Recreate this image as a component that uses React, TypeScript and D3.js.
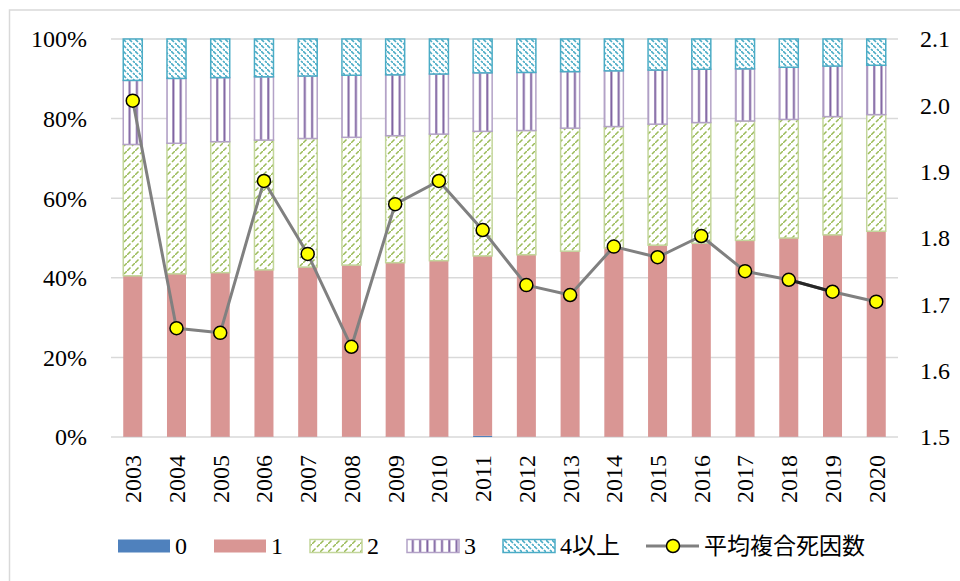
import React, { useEffect, useRef } from 'react';
import * as d3 from 'd3';

// years on the x axis
const years = ['2003', '2004', '2005', '2006', '2007', '2008', '2009', '2010', '2011', '2012', '2013', '2014', '2015', '2016', '2017', '2018', '2019', '2020'];

// share of deaths (%) by number of causes
const share0 = [0.05, 0.05, 0.05, 0.05, 0.05, 0.05, 0.05, 0.05, 0.3, 0.05, 0.05, 0.05, 0.05, 0.05, 0.05, 0.05, 0.05, 0.05];
const share1 = [40.45, 40.95, 41.25, 41.95, 42.65, 43.15, 43.75, 44.25, 45.2, 45.75, 46.65, 47.45, 48.15, 48.65, 49.35, 49.95, 50.75, 51.65];
const share2 = [33.0, 32.8, 32.9, 32.6, 32.3, 32.1, 31.9, 31.8, 31.3, 31.2, 30.9, 30.5, 30.4, 30.3, 30.0, 29.8, 29.7, 29.3];
const share3 = [16.1, 16.3, 16.1, 15.9, 15.7, 15.6, 15.3, 15.1, 14.7, 14.6, 14.2, 14.0, 13.6, 13.4, 13.1, 13.1, 12.7, 12.4];
const share4 = [10.4, 9.9, 9.7, 9.5, 9.3, 9.1, 9.0, 8.8, 8.5, 8.4, 8.2, 8.0, 7.8, 7.6, 7.5, 7.1, 6.8, 6.6];

// average number of multiple causes of death (right axis)
const avgCauses = [2.007, 1.664, 1.657, 1.886, 1.776, 1.636, 1.851, 1.886, 1.812, 1.729, 1.714, 1.787, 1.771, 1.803, 1.75, 1.737, 1.719, 1.704];

const seriesKeys = ['0', '1', '2', '3', '4以上'];
const lineLabel = '平均複合死因数';
const leftTicks = [0, 20, 40, 60, 80, 100];
const rightTicks = [1.5, 1.6, 1.7, 1.8, 1.9, 2.0, 2.1];

const numFont = '"Liberation Serif", "DejaVu Serif", serif';
const jpFont = '"Noto Sans CJK JP", sans-serif';

function App() {
  const svgRef = useRef(null);

  useEffect(() => {
    const width = 960;
    const height = 581;
    const margin = { top: 39, right: 62, bottom: 144, left: 111 };
    const innerW = width - margin.left - margin.right;
    const innerH = height - margin.top - margin.bottom;

    const svg = d3.select(svgRef.current).attr('width', width).attr('height', height);
    svg.selectAll('*').remove();

    // patterns
    const defs = svg.append('defs');
    const p2 = defs.append('pattern').attr('id', 'pat2').attr('patternUnits', 'userSpaceOnUse').attr('width', 8).attr('height', 8);
    p2.append('rect').attr('width', 8).attr('height', 8).attr('fill', '#fff');
    p2.append('path').attr('d', 'M0,8 L3.5,4.5 M5,3 L8,0').attr('stroke', '#9bbb59').attr('stroke-width', 1.5);

    const p3 = defs.append('pattern').attr('id', 'pat3').attr('patternUnits', 'userSpaceOnUse').attr('width', 7.3).attr('height', 8);
    p3.append('rect').attr('width', 7.3).attr('height', 8).attr('fill', '#fff');
    p3.append('rect').attr('x', 3).attr('width', 2).attr('height', 8).attr('fill', '#8064a2');

    const p4 = defs.append('pattern').attr('id', 'pat4').attr('patternUnits', 'userSpaceOnUse').attr('width', 6).attr('height', 6);
    p4.append('rect').attr('width', 6).attr('height', 6).attr('fill', '#fff');
    p4.append('path').attr('d', 'M0,0 L3,3 M4,4 L6,6').attr('stroke', '#4bacc6').attr('stroke-width', 1.6);

    const styles = [
      { fill: '#4f81bd', stroke: 'none' },
      { fill: '#d99694', stroke: 'none' },
      { fill: 'url(#pat2)', stroke: '#c3d69b' },
      { fill: 'url(#pat3)', stroke: '#b3a2c7' },
      { fill: 'url(#pat4)', stroke: '#4bacc6' },
    ];

    // chart frame
    svg.append('rect').attr('x', 9.5).attr('y', 10).attr('width', 980).attr('height', 600)
      .attr('fill', 'none').attr('stroke', '#d9d9d9').attr('stroke-width', 1.5);

    const bounds = svg.append('g').attr('transform', `translate(${margin.left},${margin.top})`);

    const x = d3.scaleBand().domain(years).range([0, innerW]).paddingInner(0.565).paddingOuter(0.28);
    const yL = d3.scaleLinear().domain([0, 100]).range([innerH, 0]);
    const yR = d3.scaleLinear().domain([1.5, 2.1]).range([innerH, 0]);

    // gridlines
    bounds.selectAll('.grid').data(leftTicks).enter().append('line')
      .attr('x1', 0).attr('x2', innerW)
      .attr('y1', (d) => yL(d)).attr('y2', (d) => yL(d))
      .attr('stroke', '#d9d9d9').attr('stroke-width', 1.5);

    // stacked bars
    const table = years.map((yr, i) => ({ year: yr, '0': share0[i], '1': share1[i], '2': share2[i], '3': share3[i], '4以上': share4[i] }));
    const stacked = d3.stack().keys(seriesKeys)(table);

    stacked.forEach((layer, li) => {
      bounds.append('g').selectAll('rect').data(layer).enter().append('rect')
        .attr('x', (d) => x(d.data.year))
        .attr('width', x.bandwidth())
        .attr('y', (d) => yL(d[1]))
        .attr('height', (d) => Math.max(0, yL(d[0]) - yL(d[1])))
        .attr('fill', styles[li].fill)
        .attr('stroke', styles[li].stroke)
        .attr('stroke-width', 1.5);
    });

    // line
    const cx = (i) => x(years[i]) + x.bandwidth() / 2;
    const line = d3.line().x((d, i) => cx(i)).y((d) => yR(d));
    bounds.append('path').attr('d', line(avgCauses)).attr('fill', 'none')
      .attr('stroke', '#808080').attr('stroke-width', 3).attr('stroke-linejoin', 'round');
    // darker segment between 2018 and 2019
    const segLine = d3.line().x((d) => cx(d)).y((d) => yR(avgCauses[d]));
    bounds.append('path').attr('d', segLine([15, 16])).attr('fill', 'none')
      .attr('stroke', '#262626').attr('stroke-width', 3);

    bounds.selectAll('.dot').data(avgCauses).enter().append('circle')
      .attr('cx', (d, i) => cx(i)).attr('cy', (d) => yR(d)).attr('r', 6.5)
      .attr('fill', '#ffff00').attr('stroke', '#000').attr('stroke-width', 1.5);

    // left axis labels
    bounds.selectAll('.lt').data(leftTicks).enter().append('text')
      .attr('x', -24).attr('y', (d) => yL(d)).attr('dy', '0.35em')
      .attr('text-anchor', 'end').style('font-family', numFont).style('font-size', '24px').attr('fill', '#000')
      .text((d) => `${d}%`);

    // right axis labels
    bounds.selectAll('.rt').data(rightTicks).enter().append('text')
      .attr('x', innerW + 22).attr('y', (d) => yR(d)).attr('dy', '0.35em')
      .attr('text-anchor', 'start').style('font-family', numFont).style('font-size', '24px').attr('fill', '#000')
      .text((d) => d.toFixed(1));

    // x labels
    bounds.selectAll('.xt').data(years).enter().append('text')
      .attr('transform', (d) => `translate(${x(d) + x.bandwidth() / 2},${innerH + 18}) rotate(-90)`)
      .attr('dy', '0.35em').attr('text-anchor', 'end')
      .style('font-family', numFont).style('font-size', '24px').attr('fill', '#000')
      .text((d) => d);

    // legend
    const legendY = 546;
    const legendX = [118, 214, 310, 407, 503];
    seriesKeys.forEach((k, i) => {
      svg.append('rect').attr('x', legendX[i]).attr('y', legendY - 6.5).attr('width', 52).attr('height', 13)
        .attr('fill', styles[i].fill).attr('stroke', styles[i].stroke).attr('stroke-width', 1.5);
      svg.append('text').attr('x', legendX[i] + 57).attr('y', legendY).attr('dy', '0.35em')
        .style('font-family', `${numFont}, ${jpFont}`).style('font-size', '24px').attr('fill', '#000')
        .text(k);
    });
    svg.append('line').attr('x1', 646).attr('x2', 699).attr('y1', legendY).attr('y2', legendY)
      .attr('stroke', '#808080').attr('stroke-width', 3);
    svg.append('circle').attr('cx', 673).attr('cy', legendY).attr('r', 6.5)
      .attr('fill', '#ffff00').attr('stroke', '#000').attr('stroke-width', 1.5);
    svg.append('text').attr('x', 704).attr('y', legendY).attr('dy', '0.35em')
      .style('font-family', jpFont).style('font-size', '23px').attr('fill', '#000')
      .text(lineLabel);
  }, []);

  return (
    <svg ref={svgRef} style={{ position: 'absolute', left: 0, top: 0, display: 'block', background: '#fff' }} />
  );
}

export default App;
